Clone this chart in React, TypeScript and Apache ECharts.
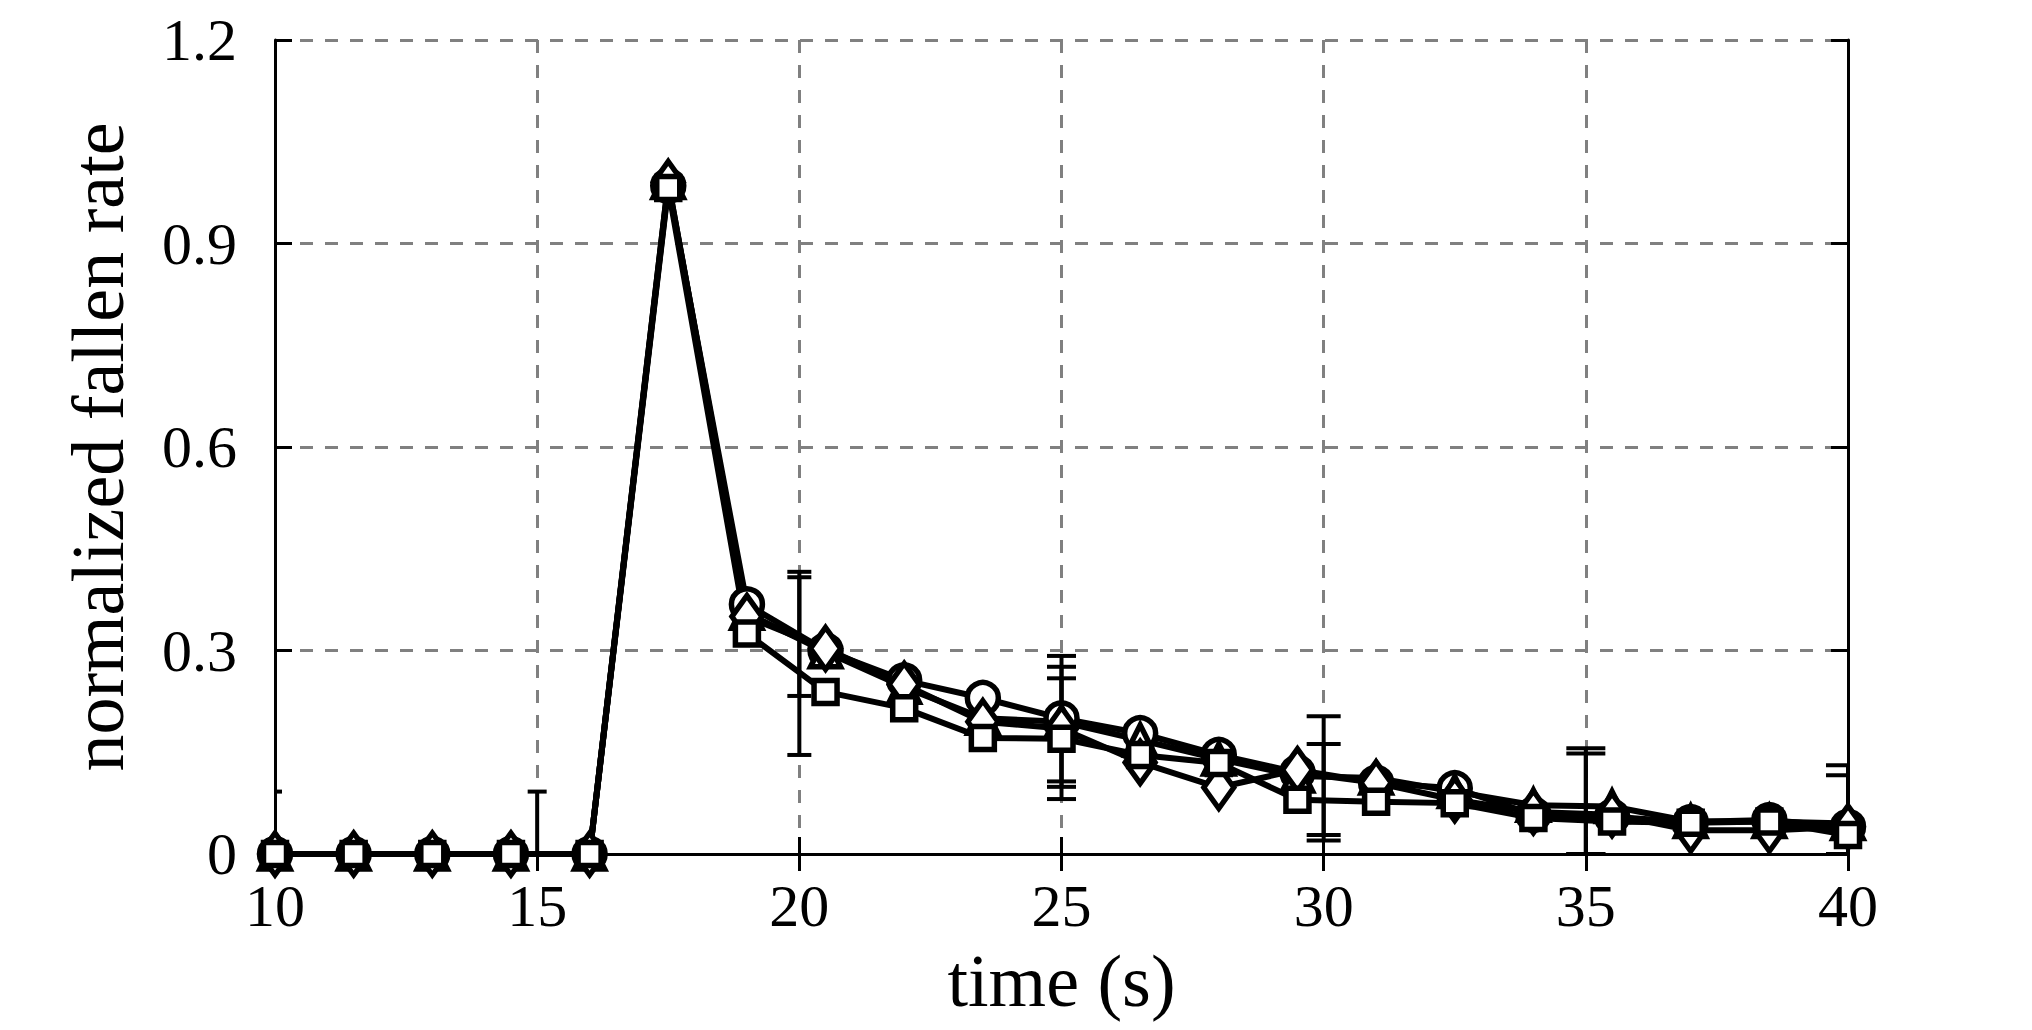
import React, { useEffect, useRef } from "react";
import * as echarts from "echarts";

const timeValues = [10, 11.5, 13, 14.5, 16, 17.5, 19, 20.5, 22, 23.5, 25, 26.5, 28, 29.5, 31, 32.5, 34, 35.5, 37, 38.5, 40];
const circleValues = [0, 0, 0, 0, 0, 0.985, 0.368, 0.300, 0.256, 0.230, 0.200, 0.178, 0.146, 0.120, 0.105, 0.097, 0.058, 0.055, 0.047, 0.050, 0.040];
const triangleValues = [0, 0, 0, 0, 0, 0.99, 0.355, 0.298, 0.246, 0.200, 0.195, 0.168, 0.140, 0.115, 0.112, 0.092, 0.072, 0.070, 0.048, 0.048, 0.045];
const diamondValues = [0, 0, 0, 0, 0, 0.99, 0.350, 0.303, 0.250, 0.195, 0.185, 0.135, 0.098, 0.124, 0.105, 0.080, 0.062, 0.058, 0.035, 0.035, 0.040];
const squareValues = [0, 0, 0, 0, 0, 0.982, 0.325, 0.239, 0.215, 0.171, 0.170, 0.146, 0.134, 0.080, 0.077, 0.075, 0.053, 0.048, 0.046, 0.048, 0.028];

const errorTimes = [10, 15, 20, 20, 25, 25, 25, 30, 30, 35, 35, 40, 40];
const errorLows = [0, 0, 0.146, 0.233, 0.081, 0.099, 0.107, 0.020, 0.028, 0, 0, 0, 0];
const errorHighs = [0.092, 0.092, 0.416, 0.408, 0.292, 0.276, 0.259, 0.203, 0.162, 0.156, 0.148, 0.131, 0.116];

const xAxisName = "time (s)";
const yAxisName = "normalized fallen rate";

const FONT = "'Liberation Serif', 'Times New Roman', serif";

function pairs(values: number[]) {
  return timeValues.map((t, i) => [t, values[i]]);
}

export default function App() {
  const ref = useRef<HTMLDivElement>(null);
  useEffect(() => {
    if (!ref.current) return;
    const chart = echarts.init(ref.current, undefined, { renderer: "svg" });
    const axisLine = { show: true, lineStyle: { color: "#000", width: 3 } };
    const axisTick = { show: true, inside: true, length: 17, lineStyle: { color: "#000", width: 3 } };
    const splitLine = { show: true, lineStyle: { color: "#808080", width: 3, type: [13, 12] } };
    const lineStyle = { color: "#000", width: 6 };
    const itemStyle = { color: "#fff", borderColor: "#000", borderWidth: 5.5 };
    const errorData = errorTimes.map((t, i) => [t, errorLows[i], errorHighs[i]]);

    const mkLine = (name: string, values: number[], symbol: string, size: any) => ({
      name,
      type: "line",
      data: pairs(values),
      symbol,
      symbolSize: size,
      showSymbol: true,
      lineStyle,
      itemStyle,
      emphasis: { disabled: true },
      clip: false,
      z: 3,
    });

    chart.setOption({
      animation: false,
      backgroundColor: "#fff",
      grid: { left: 275, right: 184, top: 40, bottom: 176 },
      xAxis: [
        {
          type: "value",
          min: 10,
          max: 40,
          interval: 5,
          position: "bottom",
          name: xAxisName,
          nameLocation: "middle",
          nameGap: 90,
          nameTextStyle: { fontFamily: FONT, fontSize: 74, color: "#000" },
          axisLine,
          axisTick,
          splitLine,
          axisLabel: { fontFamily: FONT, fontSize: 60, color: "#000", margin: 22 },
        },
        {
          type: "value",
          min: 10,
          max: 40,
          interval: 5,
          position: "top",
          axisLine,
          axisTick,
          splitLine: { show: false },
          axisLabel: { show: false },
        },
      ],
      yAxis: [
        {
          type: "value",
          min: 0,
          max: 1.2,
          interval: 0.3,
          position: "left",
          name: yAxisName,
          nameLocation: "middle",
          nameGap: 140,
          nameRotate: 90,
          nameTextStyle: { fontFamily: FONT, fontSize: 74, color: "#000" },
          axisLine,
          axisTick,
          splitLine,
          axisLabel: { fontFamily: FONT, fontSize: 60, color: "#000", margin: 38 },
        },
        {
          type: "value",
          min: 0,
          max: 1.2,
          interval: 0.3,
          position: "right",
          axisLine,
          axisTick,
          splitLine: { show: false },
          axisLabel: { show: false },
        },
      ],
      series: [
        {
          type: "custom",
          name: "error",
          data: errorData,
          encode: { x: 0, y: [1, 2] },
          clip: true,
          z: 2,
          renderItem: (params: any, api: any) => {
            const x = api.value(0);
            const lo = api.coord([x, api.value(1)]);
            const hi = api.coord([x, api.value(2)]);
            const half = 2 + 0.5 * x;
            const style = { stroke: "#000", lineWidth: 4 };
            return {
              type: "group",
              children: [
                { type: "line", shape: { x1: lo[0], y1: lo[1], x2: hi[0], y2: hi[1] }, style },
                { type: "line", shape: { x1: lo[0] - half, y1: lo[1], x2: lo[0] + half, y2: lo[1] }, style },
                { type: "line", shape: { x1: hi[0] - half, y1: hi[1], x2: hi[0] + half, y2: hi[1] }, style },
              ],
            };
          },
        },
        mkLine("circle", circleValues, "circle", 31),
        mkLine("triangle", triangleValues, "triangle", [30, 30]),
        mkLine("diamond", diamondValues, "diamond", [30, 42]),
        mkLine("square", squareValues, "rect", 23),
      ],
    });
    return () => chart.dispose();
  }, []);
  return (
    <div
      ref={ref}
      style={{ position: "fixed", left: 0, top: 0, width: 2032, height: 1030, background: "#fff" }}
    />
  );
}
